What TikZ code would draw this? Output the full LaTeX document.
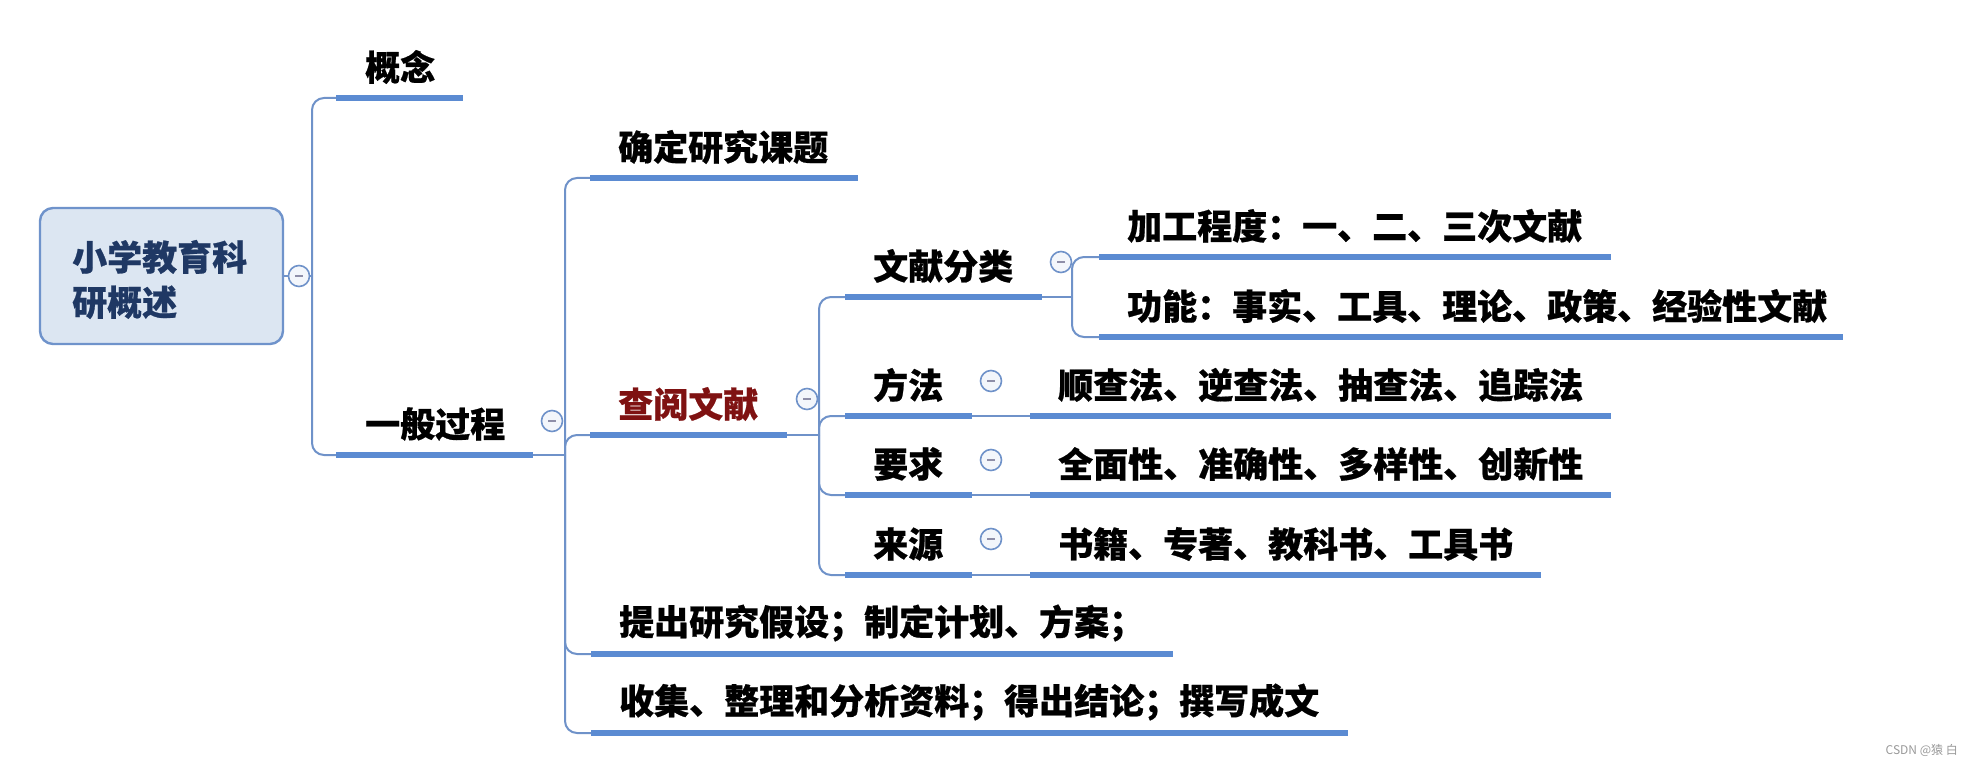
\documentclass[tikz,border=0pt]{standalone}
\usepackage{fontspec}
\setmainfont{Noto Sans CJK SC}[BoldFeatures={FakeBold=0.6}]
\definecolor{linec}{HTML}{6F92C9}
\definecolor{ulc}{HTML}{5B8BD2}
\definecolor{rootfill}{HTML}{DCE6F2}
\definecolor{rootdraw}{HTML}{6F93CB}
\definecolor{roottext}{HTML}{1F3864}
\definecolor{redtext}{HTML}{7F1212}
\definecolor{foldfill}{HTML}{F3F6FB}
\definecolor{minusc}{HTML}{8E8EA8}
\tikzset{
  conn/.style={draw=linec, line width=2pt},
  curved/.style={conn, rounded corners=12pt},
  under/.style={draw=ulc, line width=6pt},
  topic/.style={anchor=west, inner sep=0pt, font=\fontsize{35}{42}\selectfont\bfseries, text=black},
  fold/.style={circle, draw=linec, line width=1.6pt, fill=foldfill, minimum size=21pt, inner sep=0pt,
    path picture={\draw[minusc, line width=1.6pt] ([xshift=-4pt]path picture bounding box.center) -- ([xshift=4pt]path picture bounding box.center);}},
  rootbox/.style={draw=rootdraw, line width=2.4pt, fill=rootfill, rounded corners=13pt, minimum width=243pt, minimum height=136pt, inner sep=0pt},
  roottitle/.style={anchor=west, inner sep=0pt, align=left, font=\fontsize{35}{45}\selectfont\bfseries, text=roottext},
}
\newcommand{\ulseg}[4]{%
  \coordinate (#1-l) at (#2,#4);
  \coordinate (#1-r) at (#3,#4);
  \draw[under] (#1-l) -- (#1-r);}
\begin{document}
\begin{tikzpicture}[x=1pt,y=-1pt]
\useasboundingbox (0,0) rectangle (1966,765);
% root
\node[rootbox] (root) at (161.5,276) {};
\node[roottitle] (rtitle) at (72,279.5) {小学教育科\\研概述};
\node[fold] (c0) at (299,276) {};
\coordinate (j1) at (312,276);
\draw[conn] (root.east) -- (c0.west);
\draw[conn] (c0.east) -- (j1);
% level 1
\ulseg{gn}{336}{463}{98}
\node[topic] (tgn) at ([shift={(29,-31)}]gn-l) {概念};
\ulseg{yb}{336}{533}{455}
\node[topic] (tyb) at ([shift={(29,-31)}]yb-l) {一般过程};
\node[fold] (c1) at (552,421) {};
\draw[curved] (j1) |- (gn-l);
\draw[curved] (j1) |- (yb-l);
% level 2
\coordinate (j2) at (565,455);
\draw[conn] (yb-r) -- (j2);
\ulseg{qd}{590}{858}{178}
\node[topic] (tqd) at ([shift={(28,-31)}]qd-l) {确定研究课题};
\ulseg{cy}{590}{787}{435}
\node[topic, text=redtext] (tcy) at ([shift={(28,-31)}]cy-l) {查阅文献};
\node[fold] (c2) at (807,399) {};
\ulseg{tc}{591}{1173}{654}
\node[topic] (ttc) at ([shift={(28,-31)}]tc-l) {提出研究假设；制定计划、方案；};
\ulseg{sj}{591}{1348}{733}
\node[topic] (tsj) at ([shift={(28,-31)}]sj-l) {收集、整理和分析资料；得出结论；撰写成文};
\draw[curved] (j2) |- (qd-l);
\draw[curved] (j2) |- (cy-l);
\draw[curved] (j2) |- (tc-l);
\draw[curved] (j2) |- (sj-l);
% level 3
\coordinate (j3) at (819,435);
\draw[conn] (cy-r) -- (j3);
\ulseg{fl}{845}{1042}{297}
\node[topic] (tfl) at ([shift={(28,-31)}]fl-l) {文献分类};
\node[fold] (c3) at (1061,262) {};
\ulseg{ff}{845}{972}{416}
\node[topic] (tff) at ([shift={(28,-31)}]ff-l) {方法};
\node[fold] (cf) at (991,381) {};
\ulseg{yq}{845}{972}{495}
\node[topic] (tyq) at ([shift={(28,-31)}]yq-l) {要求};
\node[fold] (cq) at (991,460) {};
\ulseg{ly}{845}{972}{575}
\node[topic] (tly) at ([shift={(28,-31)}]ly-l) {来源};
\node[fold] (cl) at (991,539) {};
\draw[curved] (j3) |- (fl-l);
\draw[curved] (j3) |- (ff-l);
\draw[curved] (j3) |- (yq-l);
\draw[curved] (j3) |- (ly-l);
% level 4 under 文献分类
\coordinate (j4) at (1072,297);
\draw[conn] (fl-r) -- (j4);
\ulseg{jg}{1099}{1611}{257}
\node[topic] (tjg) at ([shift={(28,-31)}]jg-l) {加工程度：一、二、三次文献};
\ulseg{gnn}{1099}{1843}{337}
\node[topic] (tgnn) at ([shift={(28,-31)}]gnn-l) {功能：事实、工具、理论、政策、经验性文献};
\draw[curved] (j4) |- (jg-l);
\draw[curved] (j4) |- (gnn-l);
% leaves of 方法 / 要求 / 来源
\ulseg{sc}{1030}{1611}{416}
\node[topic] (tsc) at ([shift={(28,-31)}]sc-l) {顺查法、逆查法、抽查法、追踪法};
\draw[conn] (ff-r) -- (sc-l);
\ulseg{qm}{1030}{1611}{495}
\node[topic] (tqm) at ([shift={(28,-31)}]qm-l) {全面性、准确性、多样性、创新性};
\draw[conn] (yq-r) -- (qm-l);
\ulseg{sjj}{1030}{1541}{575}
\node[topic] (tsjj) at ([shift={(28,-31)}]sjj-l) {书籍、专著、教科书、工具书};
\draw[conn] (ly-r) -- (sjj-l);
% watermark
\node[anchor=east, inner sep=0pt, text=gray!80, font=\fontsize{12}{12}\selectfont] (wm) at (1958,750) {CSDN @猿 白};
\end{tikzpicture}
\end{document}
